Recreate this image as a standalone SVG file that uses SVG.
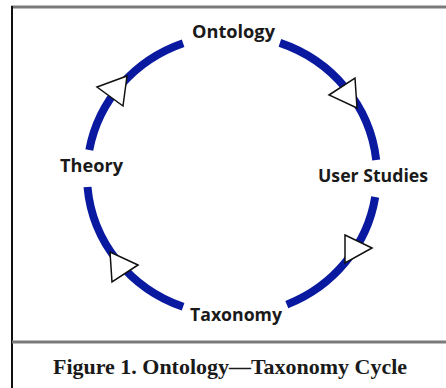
<svg xmlns="http://www.w3.org/2000/svg" width="446" height="388" viewBox="0 0 446 388">
  <style>
    .lbl { font-family: "Open Sans", "DejaVu Sans", sans-serif; font-weight: bold; font-size: 18px; fill: #1a1a1a; text-anchor: middle; }
    .cap { font-family: "Liberation Serif", "Times New Roman", serif; font-weight: bold; font-size: 22px; fill: #1a1a1a; text-anchor: middle; }
    .arc { fill: none; stroke: #0a1aa0; stroke-width: 8; stroke-linecap: butt; }
    .arrow { fill: #ffffff; stroke: #111111; stroke-width: 1.5; stroke-linejoin: miter; }
  </style>
  <rect x="0" y="0" width="446" height="388" fill="#ffffff"/>
  <g id="frame">
    <line x1="11" y1="7" x2="446" y2="7" stroke="#7a7a7a" stroke-width="3"/>
    <line x1="12" y1="6" x2="12" y2="388" stroke="#111111" stroke-width="2"/>
    <line x1="12" y1="342" x2="446" y2="342" stroke="#7a7a7a" stroke-width="3"/>
  </g>
  <g id="connectors">
    <path class="arc" d="M89.3,150 A145,140 0 0 1 183.1,43.2"/>
    <path class="arc" d="M279.9,42.9 A145,140 0 0 1 376.2,160"/>
    <path class="arc" d="M375.2,197 A145,140 0 0 1 286.8,304.6"/>
    <path class="arc" d="M183.1,306.8 A145,140 0 0 1 87.5,187"/>
    <polygon class="arrow" points="97,87 127,76 123,106"/>
    <polygon class="arrow" points="329,95 355,78 357,108"/>
    <polygon class="arrow" points="372,248 345,235 345,263"/>
    <polygon class="arrow" points="138,265 110,252 112,282"/>
  </g>
  <g id="ontology"><text class="lbl" x="233.5" y="38" textLength="83" lengthAdjust="spacingAndGlyphs">Ontology</text></g>
  <g id="theory"><text class="lbl" x="91.5" y="172" textLength="63" lengthAdjust="spacingAndGlyphs">Theory</text></g>
  <g id="user-studies"><text class="lbl" x="373" y="182" textLength="110" lengthAdjust="spacingAndGlyphs">User Studies</text></g>
  <g id="taxonomy"><text class="lbl" x="236" y="321" textLength="92" lengthAdjust="spacingAndGlyphs">Taxonomy</text></g>
  <g id="caption"><text class="cap" x="230" y="374" textLength="354" lengthAdjust="spacingAndGlyphs">Figure 1. Ontology—Taxonomy Cycle</text></g>
</svg>
